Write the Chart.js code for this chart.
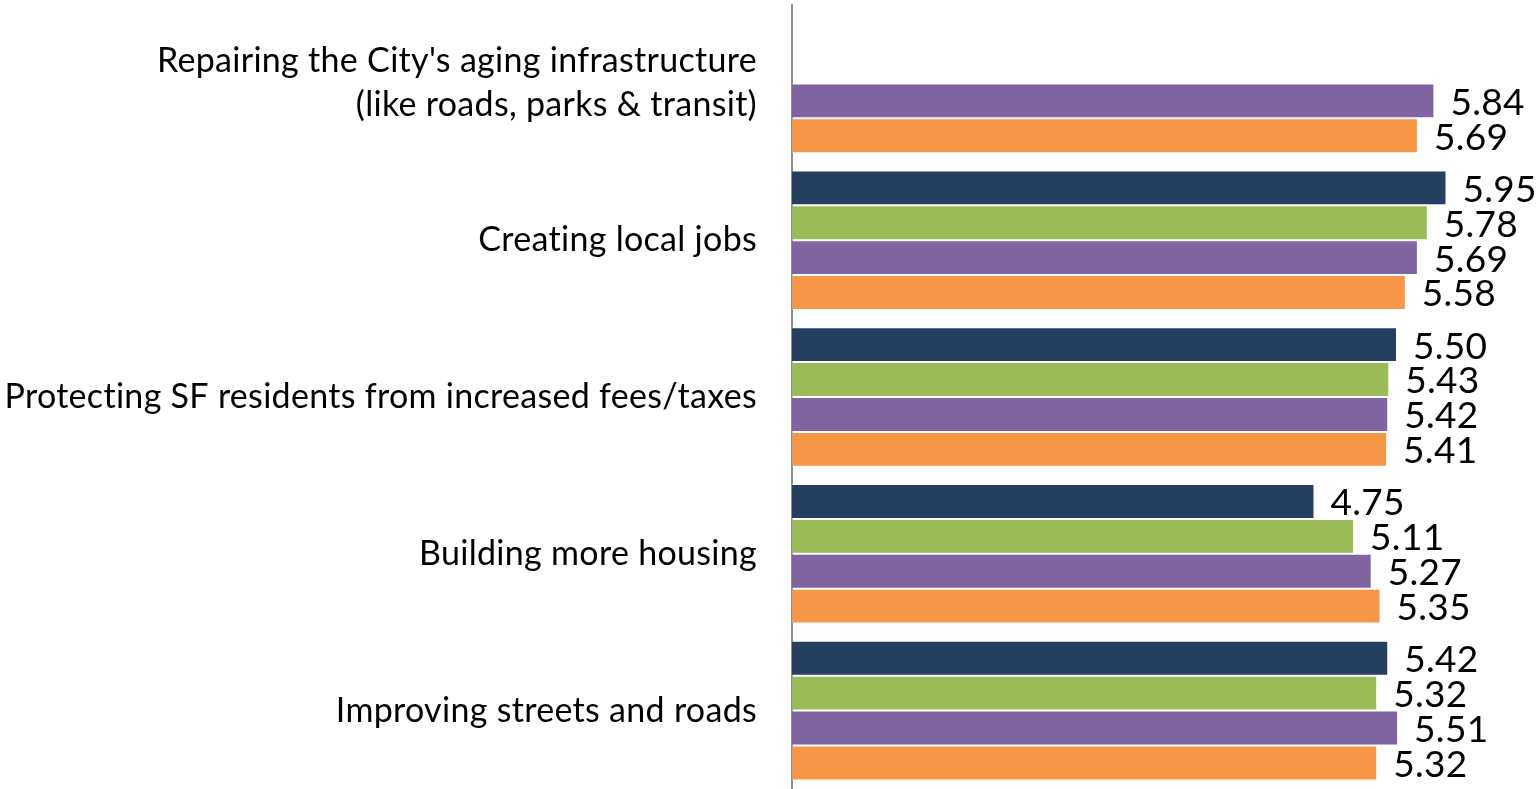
<!DOCTYPE html>
<html>
<head>
<meta charset="utf-8">
<script src="https://cdn.jsdelivr.net/npm/chart.js@4.4.1/dist/chart.umd.min.js"></script>
<style>
  html, body { margin: 0; padding: 0; background: #fff; }
  #wrap { width: 1540px; height: 789px; }
</style>
</head>
<body>
<div id="wrap"><canvas id="chart"></canvas></div>
<script>
const categories = [
    ["Repairing the City's aging infrastructure", "(like roads, parks & transit)"],
    "Creating local jobs",
    "Protecting SF residents from increased fees/taxes",
    "Building more housing",
    "Improving streets and roads"
];

// four survey waves, top bar to bottom bar in each group
const navyValues   = [null, 5.95, 5.50, 4.75, 5.42];
const greenValues  = [null, 5.78, 5.43, 5.11, 5.32];
const purpleValues = [5.84, 5.69, 5.42, 5.27, 5.51];
const orangeValues = [5.69, 5.58, 5.41, 5.35, 5.32];

const FONT = "Lato, 'Open Sans', sans-serif";

// small letter spacing, also stops the "ti" ligature
const spacing = {
    id: "spacing",
    beforeDraw(chart) {
        chart.ctx.letterSpacing = "0.3px";
    }
};

// draws the value just right of each bar
const valueLabels = {
    id: "valueLabels",
    afterDatasetsDraw(chart) {
        const ctx = chart.ctx;
        ctx.save();
        ctx.font = "37px " + FONT;
        ctx.fillStyle = "#000";
        ctx.textAlign = "left";
        ctx.textBaseline = "middle";
        chart.data.datasets.forEach((ds, i) => {
            const meta = chart.getDatasetMeta(i);
            meta.data.forEach((bar, j) => {
                const v = ds.data[j];
                if (v === null) return;
                ctx.fillText(v.toFixed(2), bar.x + 16, bar.y + 2);
            });
        });
        ctx.restore();
    }
};

new Chart(document.getElementById("chart"), {
    type: "bar",
    data: {
        labels: categories,
        datasets: [
            { label: "Navy", data: navyValues, backgroundColor: "#243F60" },
            { label: "Green", data: greenValues, backgroundColor: "#9BBB59" },
            { label: "Purple", data: purpleValues, backgroundColor: "#8064A2" },
            { label: "Orange", data: orangeValues, backgroundColor: "#F79646" }
        ]
    },
    options: {
        indexAxis: "y",
        responsive: true,
        maintainAspectRatio: false,
        animation: false,
        layout: { padding: { top: 5, bottom: 0, left: 0, right: 0 } },
        datasets: {
            bar: {
                categoryPercentage: 0.89,
                barPercentage: 1,
                borderWidth: 1,
                borderColor: "rgba(255,255,255,0.5)"
            }
        },
        plugins: {
            legend: { display: false },
            tooltip: { enabled: false }
        },
        scales: {
            x: {
                min: 0,
                max: 6.8,
                display: false,
                grid: { display: false }
            },
            y: {
                grid: { display: false, drawTicks: false },
                border: { display: true, color: "#8c8c8c", width: 2 },
                ticks: {
                    color: "#000",
                    padding: 35,
                    font: { family: FONT, size: 34, lineHeight: 1.3 }
                },
                afterFit(scale) {
                    scale.width = 792;
                    scale.paddingTop = 0;
                    scale.paddingBottom = 0;
                }
            }
        }
    },
    plugins: [spacing, valueLabels]
});
</script>
</body>
</html>
